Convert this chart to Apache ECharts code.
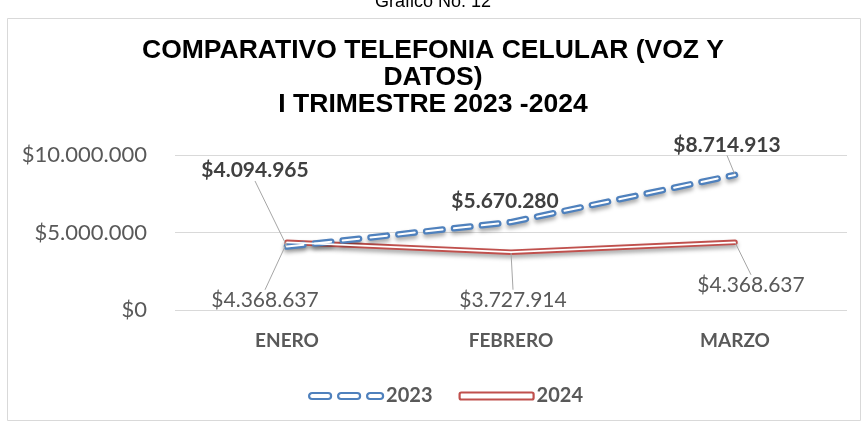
<!DOCTYPE html>
<html>
<head>
<meta charset="utf-8">
<script src="https://cdn.jsdelivr.net/npm/echarts@6/dist/echarts.min.js"></script>
<style>
  html, body { margin: 0; padding: 0; background: #fff; }
  #chart { width: 866px; height: 424px; }
</style>
</head>
<body>
<div id="chart"></div>
<script>
// Monthly spend on mobile telephony (voice + data), Q1 2023 vs Q1 2024
const months = ['ENERO', 'FEBRERO', 'MARZO'];
const values2023 = [4094965, 5670280, 8714913];
const values2024 = [4368637, 3727914, 4368637];
const seriesNames = ['2023', '2024'];
const yTicks = [0, 5000000, 10000000];

// Offsets (px) of each value label from its point
const labelShift2023 = [[-32, -76], [-6, -21], [-8, -30]];
const labelShift2024 = [[-22, 58], [2, 48], [16, 43]];

const BLUE = '#4f81bd';
const RED = '#c0504d';
const LABEL_FONT = 'Lato, "Open Sans", sans-serif';
const DASH = [16.5, 11.5];

function money(v) {
  return '$' + String(Math.round(v)).replace(/\B(?=(\d{3})+(?!\d))/g, '.');
}

function shiftedLayout(shifts) {
  return function (p) {
    const s = shifts[p.dataIndex];
    return {
      x: p.rect.x + p.rect.width / 2 + s[0],
      y: p.rect.y + p.rect.height / 2 + s[1],
      align: 'center',
      verticalAlign: 'middle'
    };
  };
}

const shadow = { shadowColor: 'rgba(0,0,0,0.35)', shadowBlur: 4, shadowOffsetY: 3 };

// outer coloured stroke carrying the labels
function outerSeries(name, values, color, dashed, width, labelStyle, shifts, hideLine) {
  return {
    name: name,
    type: 'line',
    data: values.map((v, i) => ({ value: v, labelLine: { show: hideLine.indexOf(i) < 0 } })),
    symbol: 'circle',
    symbolSize: 1,
    showSymbol: true,
    itemStyle: { color: 'rgba(0,0,0,0)' },
    lineStyle: Object.assign({
      color: color, width: width,
      type: dashed ? DASH : 'solid',
      cap: 'round', join: 'round'
    }, shadow),
    label: Object.assign({
      show: true,
      position: 'inside',
      formatter: p => money(p.value),
      fontFamily: LABEL_FONT
    }, labelStyle),
    labelLine: { show: true, lineStyle: { color: '#a6a6a6', width: 1 } },
    labelLayout: shiftedLayout(shifts),
    emphasis: { disabled: true },
    animation: false,
    z: 2
  };
}

// thin white core giving the double-stroke look
function innerSeries(name, values, dashed, width) {
  return {
    name: name,
    type: 'line',
    data: values,
    symbol: 'none',
    lineStyle: {
      color: '#ffffff', width: width,
      type: dashed ? DASH : 'solid',
      cap: 'round', join: 'round'
    },
    silent: true,
    emphasis: { disabled: true },
    animation: false,
    z: 3
  };
}

const chart = echarts.init(document.getElementById('chart'), null, { renderer: 'canvas' });

chart.setOption({
  backgroundColor: '#ffffff',
  animation: false,
  title: [
    {
      text: 'Gráfico No. 12',
      left: 'center',
      top: -12,
      textStyle: { fontFamily: 'Liberation Sans, Arial, sans-serif', fontSize: 18, fontWeight: 'normal', color: '#000' }
    },
    {
      text: 'COMPARATIVO TELEFONIA CELULAR (VOZ Y\nDATOS)\nI TRIMESTRE 2023 -2024',
      left: 'center',
      top: 32,
      textStyle: {
        fontFamily: 'Liberation Sans, Arial, sans-serif',
        fontSize: 26.5, fontWeight: 'bold', color: '#000', lineHeight: 27, align: 'center'
      }
    }
  ],
  graphic: [{
    type: 'rect',
    shape: { x: 7.5, y: 18.5, width: 853, height: 402 },
    style: { fill: 'none', stroke: '#d9d9d9', lineWidth: 1 },
    silent: true,
    z: -1
  }],
  legend: {
    bottom: 18,
    left: 308,
    itemGap: 26,
    itemHeight: 7,
    textStyle: { fontFamily: LABEL_FONT, fontSize: 20, fontWeight: 'bold', color: '#595959', padding: [0, 0, 0, -2] },
    data: [
      {
        name: seriesNames[0],
        icon: 'path://M3,0H19A3,3 0 0 1 19,6H3A3,3 0 0 1 3,0Z M32,0H48A3,3 0 0 1 48,6H32A3,3 0 0 1 32,0Z M61,0H71A3,3 0 0 1 71,6H61A3,3 0 0 1 61,0Z',
        itemStyle: { color: '#ffffff', borderColor: BLUE, borderWidth: 2.2 }
      },
      {
        name: seriesNames[1],
        icon: 'roundRect',
        itemStyle: { color: '#ffffff', borderColor: RED, borderWidth: 2.2 }
      }
    ],
    itemWidth: 74,
    padding: 0,
    selectedMode: false
  },
  grid: { left: 175, right: 19, top: 155, bottom: 114 },
  xAxis: {
    type: 'category',
    data: months,
    boundaryGap: true,
    axisLine: { show: false },
    axisTick: { show: false },
    axisLabel: { margin: 21, fontFamily: LABEL_FONT, fontSize: 19, fontWeight: 'bold', color: '#595959' }
  },
  yAxis: {
    type: 'value',
    min: yTicks[0],
    max: yTicks[yTicks.length - 1],
    interval: yTicks[1] - yTicks[0],
    axisLine: { show: false },
    axisTick: { show: false },
    splitLine: { lineStyle: { color: '#d9d9d9', width: 1 } },
    axisLabel: { margin: 28, fontFamily: LABEL_FONT, fontSize: 22, color: '#595959', formatter: v => money(v) }
  },
  series: [
    outerSeries(seriesNames[1], values2024, RED, false, 5.5,
      { fontSize: 21, fontWeight: 'normal', color: '#595959' }, labelShift2024, []),
    innerSeries(seriesNames[1], values2024, false, 1.8),
    outerSeries(seriesNames[0], values2023, BLUE, true, 6.5,
      { fontSize: 21, fontWeight: 'bold', color: '#404040' }, labelShift2023, [1]),
    innerSeries(seriesNames[0], values2023, true, 2)
  ]
});
</script>
</body>
</html>
